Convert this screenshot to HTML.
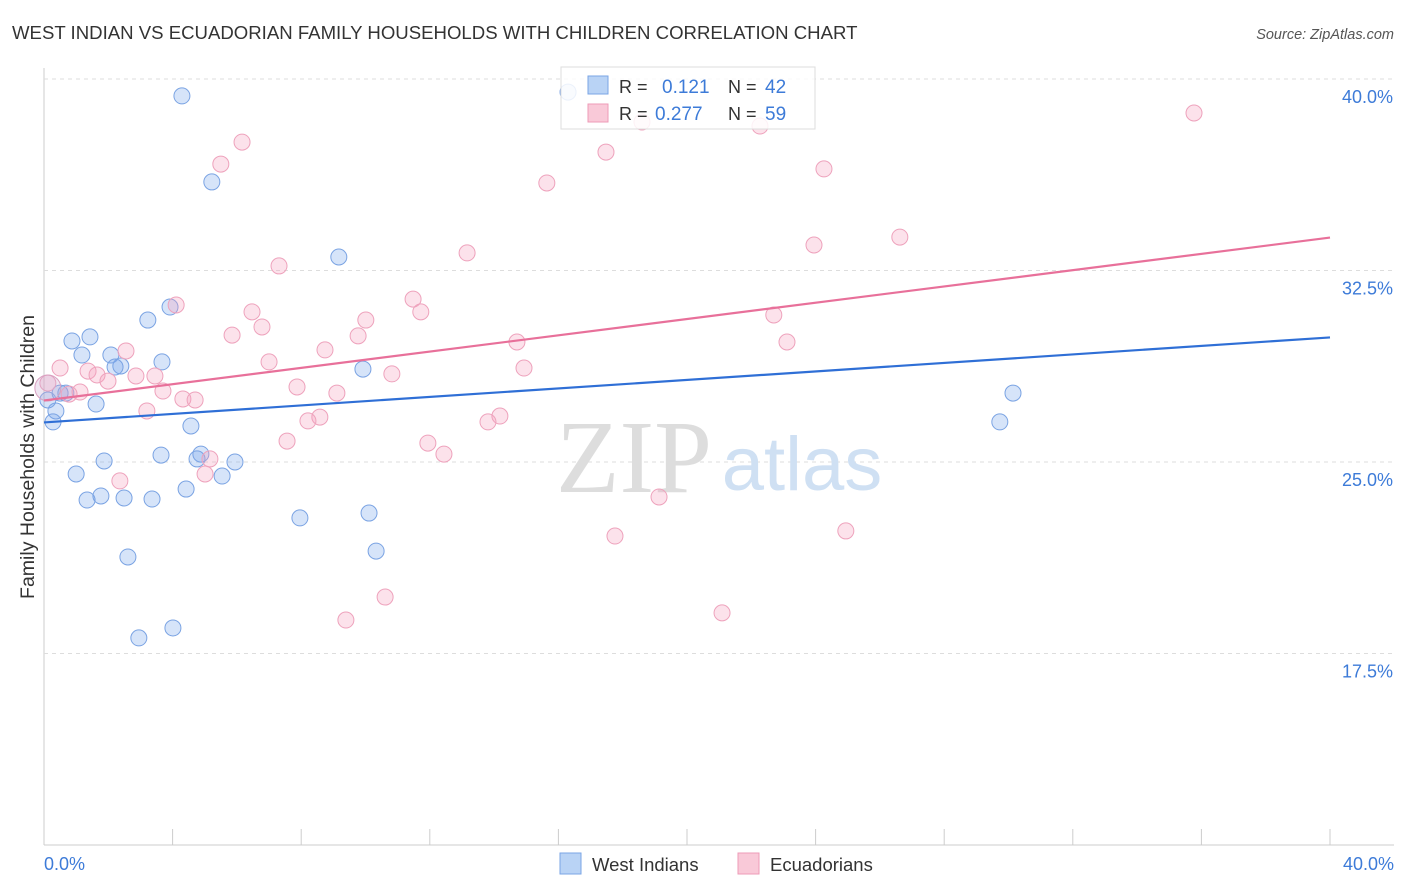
<!DOCTYPE html>
<html><head><meta charset="utf-8"><style>
body{margin:0;background:#fff;font-family:"Liberation Sans",sans-serif;}
svg{display:block}
</style></head><body>
<svg id="chart" width="1406" height="892" xmlns="http://www.w3.org/2000/svg">
<text x="12" y="39" font-size="18.6" fill="#333">WEST INDIAN VS ECUADORIAN FAMILY HOUSEHOLDS WITH CHILDREN CORRELATION CHART</text>
<text x="1394" y="39" font-size="14.5" fill="#555" font-style="italic" text-anchor="end">Source: ZipAtlas.com</text>
<g id="grid"></g>
<g id="watermark">
<text x="634" y="492" font-size="104" fill="#ddd" font-family="Liberation Serif,serif" text-anchor="middle">ZIP</text>
<text x="802" y="490" font-size="76" fill="#cfe0f3" text-anchor="middle">atlas</text>
</g>
<text transform="translate(34,457) rotate(-90)" font-size="19.5" fill="#333" text-anchor="middle">Family Households with Children</text>
<g id="points"></g>
<g id="lines"></g>
<g>
<rect x="561" y="67" width="254" height="62" fill="#fff" fill-opacity="0.85" stroke="#ddd"/>
<rect x="588" y="76" width="20" height="18" fill="#b9d3f5" stroke="#7aa5e5"/>
<rect x="588" y="104" width="20" height="18" fill="#f9c9d8" stroke="#ee9bb7"/>
<text x="619" y="93" font-size="18" fill="#333">R = </text><text x="662" y="93" font-size="19" fill="#3d7bd8">0.121</text>
<text x="728" y="93" font-size="18" fill="#333">N = </text><text x="765" y="93" font-size="19" fill="#3d7bd8">42</text>
<text x="619" y="120" font-size="18" fill="#333">R = </text><text x="655" y="120" font-size="19" fill="#3d7bd8">0.277</text>
<text x="728" y="120" font-size="18" fill="#333">N = </text><text x="765" y="120" font-size="19" fill="#3d7bd8">59</text>
</g>
<g>
<rect x="560" y="853" width="21" height="21" fill="#b9d3f5" stroke="#7aa5e5"/>
<text x="592" y="871" font-size="18.5" fill="#333">West Indians</text>
<rect x="738" y="853" width="21" height="21" fill="#f9c9d8" stroke="#ee9bb7"/>
<text x="770" y="871" font-size="18.5" fill="#333">Ecuadorians</text>
</g>
<text x="44" y="870" font-size="18" fill="#3d7bd8">0.0%</text>
<text x="1394" y="870" font-size="18" fill="#3d7bd8" text-anchor="end">40.0%</text>
</svg>
<script>
const yTicks=[40,32.5,25,17.5];
const yTickLabels=["40.0%","32.5%","25.0%","17.5%"];
const blueX=[4.29,5.22,9.17,3.92,3.23,0.87,1.43,1.18,2.08,3.67,2.39,2.21,9.92,0.50,0.68,1.62,0.37,0.28,4.57,3.64,1.87,4.88,4.76,5.94,1.0,5.54,4.42,1.77,1.34,2.49,3.36,7.96,10.11,10.33,2.61,4.01,2.95,30.14,29.73,16.30,0.12];
const blueY=[39.34,35.97,33.03,31.07,30.56,29.74,29.90,29.19,29.19,28.92,28.76,28.72,28.64,27.70,27.70,27.27,27.0,26.57,26.41,25.27,25.04,25.31,25.12,25.0,24.53,24.45,23.94,23.67,23.51,23.59,23.55,22.81,23.0,21.51,21.28,18.50,18.11,27.70,26.57,39.49,27.43];
const pinkX=[35.77,6.16,5.50,17.48,18.60,22.27,24.26,15.64,26.62,23.95,13.16,7.31,4.11,6.47,11.48,11.72,10.01,6.78,5.85,9.77,14.71,23.11,22.70,2.55,7.0,8.74,0.50,1.37,1.65,3.45,2.86,10.82,14.93,1.99,0.12,1.12,3.70,0.78,7.87,9.11,4.32,4.70,3.20,8.58,8.21,14.18,13.81,7.56,11.94,12.44,5.16,5.01,2.36,19.13,17.76,24.94,10.61,9.39,21.09];
const pinkY=[38.67,37.53,36.67,37.14,38.32,38.16,36.48,35.93,33.81,33.50,33.19,32.68,31.15,30.88,31.38,30.88,30.56,30.29,29.97,29.94,29.70,29.70,30.76,29.35,28.92,29.39,28.68,28.56,28.41,28.37,28.37,28.45,28.68,28.17,28.09,27.74,27.78,27.66,27.94,27.70,27.47,27.43,27.0,26.76,26.61,26.80,26.57,25.82,25.74,25.31,25.12,24.53,24.26,23.63,22.10,22.30,19.71,18.81,19.09];
const blueTrend=[26.55,29.88];
const pinkTrend=[27.41,33.79];
const X0=44,X1=1330;
function sx(v){return X0+(v/40)*(X1-X0);}
function sy(v){return 462-(v-25)*25.53;}
const NS="http://www.w3.org/2000/svg";
const grid=document.getElementById('grid');
function mk(t,a,p){const e=document.createElementNS(NS,t);for(const k in a)e.setAttribute(k,a[k]);p.appendChild(e);return e;}
mk('line',{x1:44,y1:68,x2:44,y2:845,stroke:'#ccc'},grid);
mk('line',{x1:44,y1:845,x2:1394,y2:845,stroke:'#ccc'},grid);
yTicks.forEach((t,i)=>{
  const l=mk('line',{x1:44,y1:sy(t),x2:1394,y2:sy(t),stroke:'#ddd','stroke-dasharray':'4,4'},grid);
  
  
  const tx=mk('text',{x:1393,y:sy(t)+24,'font-size':18,fill:'#3d7bd8','text-anchor':'end'},grid);
  tx.textContent=yTickLabels[i];
  
  
});
for(let i=0;i<=10;i++){
  const l=mk('line',{x1:sx(i*4),y1:829,x2:sx(i*4),y2:845,stroke:'#ccc'},grid);
  
  
}
const pts=document.getElementById('points');
blueX.forEach((x,i)=>{
  const c=mk('circle',{cx:sx(x),cy:sy(blueY[i]),r:8,fill:'rgba(120,165,235,0.3)',stroke:'#7aa3e3','stroke-width':1},pts);
  
  
});
pinkX.forEach((x,i)=>{
  const c=mk('circle',{cx:sx(x),cy:sy(pinkY[i]),r:8,fill:'rgba(245,160,190,0.3)',stroke:'#eea2bc','stroke-width':1},pts);
  
  
});
const big=mk('circle',{cx:sx(0.12),cy:sy(27.9),r:13,fill:'rgba(200,170,210,0.3)',stroke:'#d9a0c0'},pts);


const lines=document.getElementById('lines');
const bl=mk('line',{x1:sx(0),y1:sy(blueTrend[0]),x2:sx(40),y2:sy(blueTrend[1]),stroke:'#2f6fd6','stroke-width':2.2},lines);


const pl=mk('line',{x1:sx(0),y1:sy(pinkTrend[0]),x2:sx(40),y2:sy(pinkTrend[1]),stroke:'#e8709a','stroke-width':2.2},lines);


</script>
</body></html>
